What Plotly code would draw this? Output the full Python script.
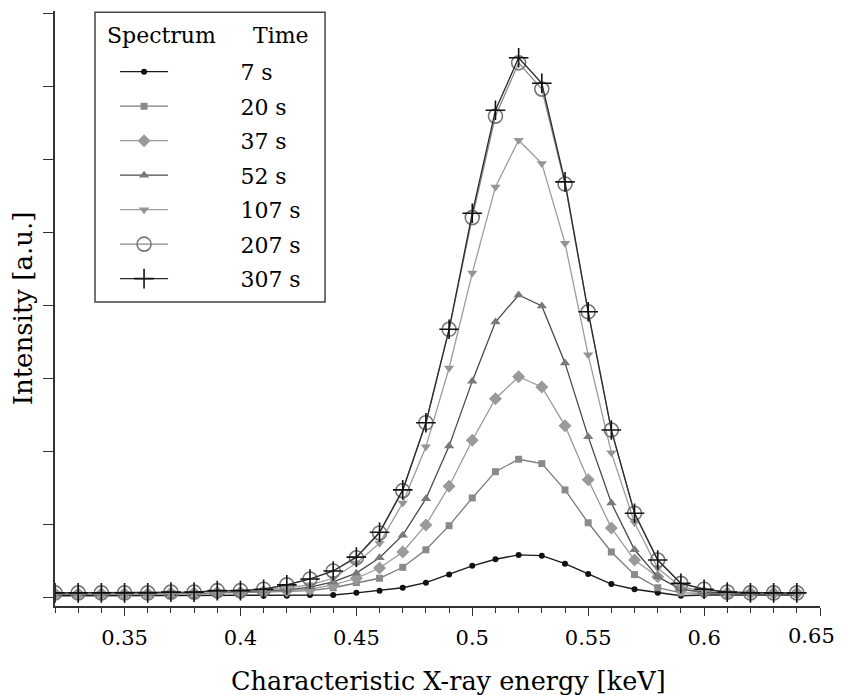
import plotly.graph_objects as go

energy_keV = [0.32, 0.33, 0.34, 0.35, 0.36, 0.37, 0.38, 0.39, 0.40, 0.41, 0.42,
              0.43, 0.44, 0.45, 0.46, 0.47, 0.48, 0.49, 0.50, 0.51, 0.52, 0.53,
              0.54, 0.55, 0.56, 0.57, 0.58, 0.59, 0.60, 0.61, 0.62, 0.63, 0.64]

s7 = [0.03, 0.03, 0.03, 0.03, 0.03, 0.03, 0.03, 0.03, 0.03, 0.03, 0.03,
      0.04, 0.04, 0.07, 0.10, 0.14, 0.21, 0.32, 0.44, 0.53, 0.59, 0.58,
      0.47, 0.33, 0.19, 0.12, 0.07, 0.03, 0.04, 0.04, 0.04, 0.04, 0.04]
s20 = [0.05, 0.05, 0.05, 0.05, 0.05, 0.06, 0.06, 0.07, 0.07, 0.08, 0.09,
       0.10, 0.14, 0.21, 0.27, 0.42, 0.66, 0.99, 1.37, 1.73, 1.90, 1.84,
       1.48, 1.03, 0.63, 0.32, 0.14, 0.07, 0.06, 0.06, 0.06, 0.06, 0.06]
s37 = [0.06, 0.06, 0.06, 0.06, 0.06, 0.07, 0.07, 0.08, 0.08, 0.09, 0.10,
       0.12, 0.18, 0.27, 0.41, 0.63, 1.00, 1.53, 2.16, 2.73, 3.03, 2.89,
       2.36, 1.62, 0.96, 0.52, 0.29, 0.11, 0.08, 0.07, 0.07, 0.07, 0.07]
s52 = [0.06, 0.06, 0.06, 0.06, 0.06, 0.07, 0.07, 0.08, 0.09, 0.10, 0.11,
       0.15, 0.22, 0.34, 0.55, 0.86, 1.36, 2.08, 2.97, 3.78, 4.15, 4.00,
       3.22, 2.21, 1.30, 0.66, 0.29, 0.12, 0.08, 0.07, 0.07, 0.07, 0.07]
s107 = [0.06, 0.06, 0.06, 0.06, 0.06, 0.07, 0.07, 0.08, 0.09, 0.11, 0.14,
        0.18, 0.27, 0.48, 0.75, 1.30, 2.07, 3.15, 4.45, 5.63, 6.27, 5.95,
        4.86, 3.33, 1.99, 1.03, 0.41, 0.15, 0.10, 0.08, 0.07, 0.07, 0.07]
s207 = [0.07, 0.07, 0.07, 0.07, 0.07, 0.08, 0.08, 0.10, 0.10, 0.12, 0.18,
        0.26, 0.37, 0.55, 0.89, 1.47, 2.40, 3.68, 5.21, 6.60, 7.33, 6.97,
        5.67, 3.92, 2.30, 1.16, 0.52, 0.20, 0.12, 0.08, 0.07, 0.07, 0.07]
s307 = [0.07, 0.07, 0.07, 0.07, 0.07, 0.08, 0.08, 0.10, 0.10, 0.12, 0.18,
        0.26, 0.37, 0.56, 0.90, 1.48, 2.40, 3.68, 5.27, 6.68, 7.40, 7.05,
        5.70, 3.92, 2.30, 1.16, 0.52, 0.20, 0.12, 0.08, 0.07, 0.07, 0.07]

series_names = ["7 s", "20 s", "37 s", "52 s", "107 s", "207 s", "307 s"]
series_values = [s7, s20, s37, s52, s107, s207, s307]
legend_headers = ["Spectrum", "Time"]
x_title = "Characteristic X-ray energy [keV]"
y_title = "Intensity [a.u.]"
x_tickvals = [0.35, 0.40, 0.45, 0.50, 0.55, 0.60, 0.65]
x_ticktext = ["0.35", "0.4", "0.45", "0.5", "0.55", "0.6", "0.65"]

styles = [
    dict(line=dict(color="#1a1a1a", width=1.4),
         marker=dict(symbol="circle", size=6, color="#111111")),
    dict(line=dict(color="#7a7a7a", width=1.3),
         marker=dict(symbol="square", size=7, color="#8a8a8a")),
    dict(line=dict(color="#9a9a9a", width=1.3),
         marker=dict(symbol="diamond", size=10, color="#9a9a9a")),
    dict(line=dict(color="#4a4a4a", width=1.3),
         marker=dict(symbol="triangle-up", size=9, color="#7a7a7a")),
    dict(line=dict(color="#9c9c9c", width=1.3),
         marker=dict(symbol="triangle-down", size=9, color="#959595")),
    dict(line=dict(color="#8a8a8a", width=1.3),
         marker=dict(symbol="circle-open", size=14,
                     color="#777777", line=dict(width=1.6, color="#777777"))),
    dict(line=dict(color="#2a2a2a", width=1.3),
         marker=dict(symbol="cross-thin-open", size=14,
                     color="#111111", line=dict(width=1.6, color="#111111"))),
]

FONT = "DejaVu Serif"
PAD = "\u00a0" * 9 + "\u2009"

fig = go.Figure()
for i, (name, vals, st) in enumerate(zip(series_names, series_values, styles)):
    fig.add_trace(go.Scatter(
        x=energy_keV, y=vals, name=PAD + name, mode="lines+markers",
        legendgroup=f"g{i}", line=st["line"], marker=st["marker"],
    ))

# legend frame and header
fig.add_shape(type="rect", xref="paper", yref="paper",
              x0=0.0523, x1=0.353, y0=0.511, y1=0.998,
              line=dict(color="#444444", width=1.5), fillcolor="rgba(0,0,0,0)")
fig.add_annotation(text=legend_headers[0], xref="paper", yref="paper",
                   x=0.0654, y=0.959, xanchor="left", yanchor="middle",
                   showarrow=False, font=dict(family=FONT, size=22, color="black"))
fig.add_annotation(text=legend_headers[1], xref="paper", yref="paper",
                   x=0.2564, y=0.959, xanchor="left", yanchor="middle",
                   showarrow=False, font=dict(family=FONT, size=22, color="black"))
# x-axis title
fig.add_annotation(text=x_title, xref="paper", yref="paper",
                   x=0.515, y=-0.1265, xanchor="center", yanchor="middle",
                   showarrow=False, font=dict(family=FONT, size=25.5, color="black"))
# last x tick label, nudged inward so it stays inside the page
fig.add_annotation(text=x_ticktext[-1], xref="x", yref="paper",
                   x=x_tickvals[-1], y=-0.0504, xanchor="center", yanchor="middle",
                   xshift=-9, showarrow=False,
                   font=dict(family=FONT, size=21, color="black"))

fig.update_layout(
    width=839, height=687,
    margin=dict(l=47, r=27, t=3, b=89),
    paper_bgcolor="white", plot_bgcolor="white",
    font=dict(family=FONT, size=21, color="black"),
    showlegend=True,
    legend=dict(
        x=0.0785, y=0.933, xanchor="left", yanchor="top",
        borderwidth=0, bgcolor="rgba(0,0,0,0)",
        font=dict(family=FONT, size=22, color="black"),
        itemwidth=48, tracegroupgap=2.9,
    ),
    xaxis=dict(
        range=[0.32, 0.65],
        tickvals=x_tickvals, ticktext=x_ticktext[:-1] + [""],
        showline=True, linecolor="#333333", linewidth=1.5,
        ticks="outside", ticklen=8, tickwidth=1.3, tickcolor="#333333",
        minor=dict(dtick=0.01, ticks="outside", ticklen=5, tickwidth=1.2,
                   tickcolor="#333333"),
        showgrid=False, zeroline=False, ticklabeloverflow="allow",
        ticklabelstandoff=4,
        tickfont=dict(family=FONT, size=21, color="black"),
    ),
    yaxis=dict(
        range=[-0.11, 8.04], dtick=1, tick0=0,
        showline=True, linecolor="#333333", linewidth=1.5,
        ticks="outside", ticklen=10, tickwidth=1.3, tickcolor="#333333",
        showticklabels=False, showgrid=False, zeroline=False,
        title=dict(text=y_title,
                   font=dict(family=FONT, size=26, color="black"), standoff=5),
    ),
)

fig.write_html("out.html")
